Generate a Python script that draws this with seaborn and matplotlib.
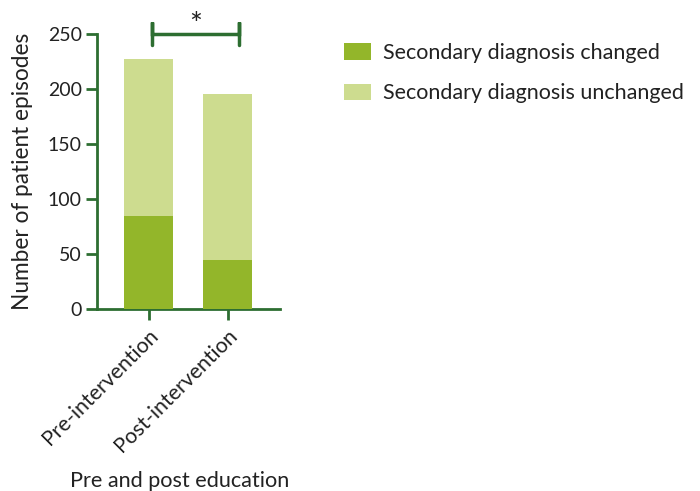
import matplotlib
matplotlib.use("Agg")
import matplotlib.pyplot as plt
from matplotlib.patches import Patch
import seaborn as sns
import pandas as pd

# Patient episodes by period
categories = ["Pre-intervention", "Post-intervention"]
changed = [85, 45]
unchanged = [142, 150]
series_labels = ["Secondary diagnosis changed", "Secondary diagnosis unchanged"]
y_ticks = [0, 50, 100, 150, 200, 250]

dark_bar = "#93b62a"
light_bar = "#cddc8f"
axis_green = "#2d6e31"
text_color = "#222222"

sns.set_theme(style="white")
plt.rcParams["font.family"] = ["Lato", "DejaVu Sans"]

df = pd.DataFrame({
    "period": categories,
    "changed": changed,
    "total": [c + u for c, u in zip(changed, unchanged)],
})

fig = plt.figure(figsize=(7.0, 4.91), dpi=100)
ax = fig.add_axes([97 / 700, 1 - 309 / 491, 183 / 700, 275 / 491])

# stacked bars: totals underneath, changed portion on top
sns.barplot(data=df, x="period", y="total", color=light_bar, width=0.62,
            saturation=1, ax=ax, zorder=2)
sns.barplot(data=df, x="period", y="changed", color=dark_bar, width=0.62,
            saturation=1, ax=ax, zorder=3)
for p in ax.patches:
    p.set_linewidth(0)

ax.set_xlim(-0.652, 1.664)
ax.set_ylim(0, 250)
ax.set_yticks(y_ticks)
ax.set_yticklabels([str(t) for t in y_ticks])

for side in ["top", "right"]:
    ax.spines[side].set_visible(False)
for side in ["left", "bottom"]:
    ax.spines[side].set_color(axis_green)
    ax.spines[side].set_linewidth(2)
ax.tick_params(axis="both", which="major", length=8, width=2, color=axis_green,
               labelsize=14, labelcolor=text_color, left=True, bottom=True)
ax.tick_params(axis="y", pad=3)
ax.set_xticks(range(len(categories)))
ax.set_xticklabels(categories, rotation=45, ha="right", rotation_mode="anchor",
                   fontsize=15.3, color=text_color)

ax.set_ylabel("Number of patient episodes", fontsize=16.3, color=text_color)
ax.yaxis.set_label_coords(-0.35, 0.5)
ax.set_xlabel("Pre and post education", fontsize=15.6, color=text_color)
ax.xaxis.set_label_coords(0.45, -0.59)

# significance bracket between the two bars
x0, x1 = 0.04, 1.15
ax.plot([x0, x0, x0, x1, x1, x1], [240, 261, 250, 250, 261, 240],
        color=axis_green, lw=2.5, clip_on=False, zorder=4, solid_joinstyle="miter")
ax.text((x0 + x1) / 2, 258, "*", ha="center", va="center", fontsize=22,
        color=text_color, clip_on=False)

handles = [Patch(facecolor=dark_bar, edgecolor="none"),
           Patch(facecolor=light_bar, edgecolor="none")]
fig.legend(handles, series_labels, loc="upper left",
           bbox_to_anchor=(344 / 700, 1 - 43 / 491), borderaxespad=0, borderpad=0,
           frameon=False, fontsize=15.5, handlelength=1.25, handleheight=0.8,
           handletextpad=0.56, labelspacing=0.95, labelcolor=text_color)

fig.savefig("out.png", dpi=100)
